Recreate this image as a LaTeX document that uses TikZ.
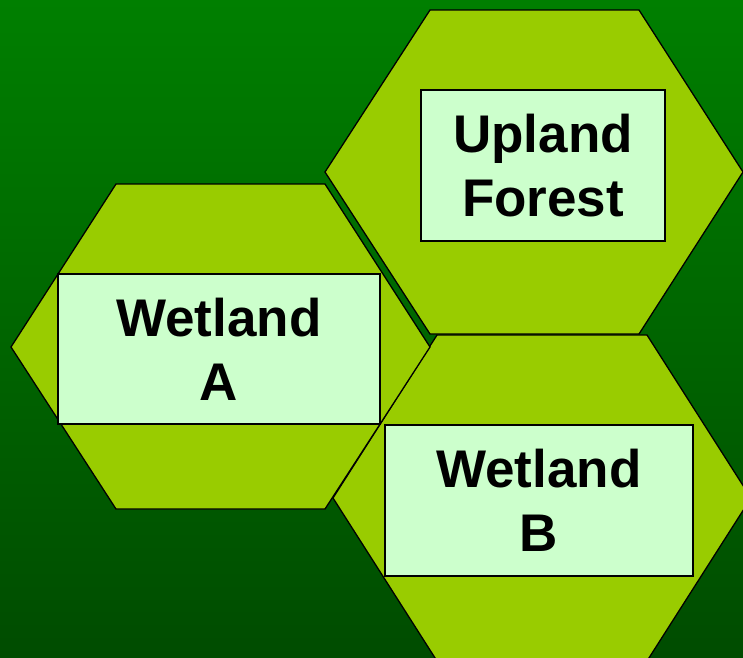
\documentclass[tikz,border=0pt]{standalone}
\usepackage{fontspec}
\setmainfont{Liberation Sans}
\definecolor{hexfill}{HTML}{99CC00}
\definecolor{boxfill}{HTML}{CCFFCC}
\definecolor{bgtop}{HTML}{007F00}
\definecolor{bgbot}{HTML}{004C00}
\begin{document}
\begin{tikzpicture}[x=1pt,y=-1pt,
  hexa/.style={draw=black, line width=1.3pt, fill=hexfill, line join=miter},
  boxlabel/.style={draw=black, line width=1.5pt, fill=boxfill, inner sep=0pt,
    font=\fontsize{53}{64}\selectfont\bfseries, align=center}]
\useasboundingbox (0,0) rectangle (743,657);
\clip (0,0) rectangle (743,657);
\shade[top color=bgtop, bottom color=bgbot] (0,0) rectangle (743,657);
% Wetland B hexagon
\path[hexa] (333,498) -- (437,335) -- (647,335) -- (751,498) -- (647,661) -- (437,661) -- cycle;
% Wetland A hexagon
\path[hexa] (11,347) -- (116,184) -- (325,184) -- (430,347) -- (325,509) -- (116,509) -- cycle;
% Upland hexagon
\path[hexa] (325,172) -- (430,10) -- (639,10) -- (743,172) -- (639,334) -- (430,334) -- cycle;
% labels
\node[boxlabel, minimum width=244pt, minimum height=151pt] (upland) at (543,165.5) {Upland\\Forest};
\node[boxlabel, minimum width=322pt, minimum height=150pt] (wetA) at (219,349) {Wetland\\A};
\node[boxlabel, minimum width=308pt, minimum height=151pt] (wetB) at (539,500.5) {Wetland\\B};
\end{tikzpicture}
\end{document}
